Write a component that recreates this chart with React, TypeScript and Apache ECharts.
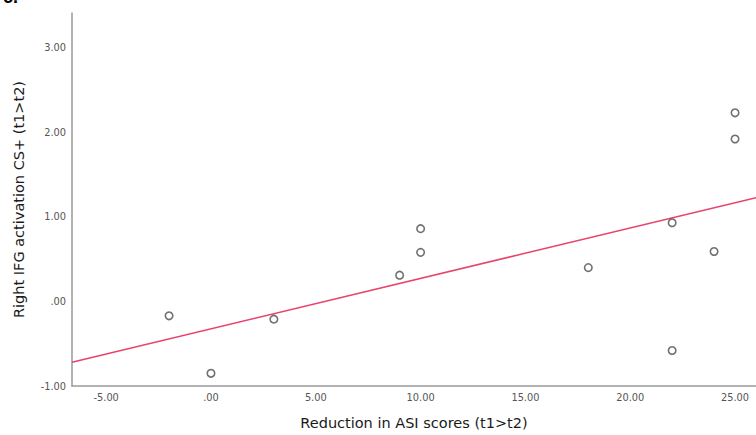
import React, { useEffect, useRef } from "react";
import * as echarts from "echarts";

const asiReduction = [-2, 0, 3, 9, 10, 10, 18, 22, 22, 24, 25, 25];
const ifgActivation = [-0.17, -0.85, -0.21, 0.31, 0.58, 0.86, 0.4, 0.93, -0.58, 0.59, 2.23, 1.92];
const xTicks = [-5, 0, 5, 10, 15, 20, 25];
const yTicks = [-1, 0, 1, 2, 3];
const xRange = [-6.63, 26.0];
const yRange = [-1, 3.41];

function fitLine(xs: number[], ys: number[]) {
  const n = xs.length;
  const mx = xs.reduce((a, b) => a + b, 0) / n;
  const my = ys.reduce((a, b) => a + b, 0) / n;
  let sxx = 0;
  let sxy = 0;
  for (let i = 0; i < n; i++) {
    sxx += (xs[i] - mx) * (xs[i] - mx);
    sxy += (xs[i] - mx) * (ys[i] - my);
  }
  const slope = sxy / sxx;
  const intercept = my - slope * mx;
  return (x: number) => intercept + slope * x;
}

const fmt = (v: number) => (v === 0 ? ".00" : v.toFixed(2));

export default function App() {
  const ref = useRef<HTMLDivElement>(null);
  useEffect(() => {
    if (!ref.current) return;
    const chart = echarts.init(ref.current, null, { renderer: "svg" });
    const f = fitLine(asiReduction, ifgActivation);
    const fitData = [
      [xRange[0], f(xRange[0])],
      [xRange[1], f(xRange[1])],
    ];
    const axisFont = "DejaVu Sans";
    chart.setOption({
      animation: false,
      backgroundColor: "#ffffff",
      grid: { left: 72, right: 0, top: 13, bottom: 48 },
      graphic: [
        {
          type: "text",
          left: 3,
          top: -12,
          style: { text: "c.", font: "bold 18px Arial", fill: "#000" },
        },
      ],
      xAxis: {
        type: "value",
        min: xRange[0],
        max: xRange[1],
        name: "Reduction in ASI scores (t1>t2)",
        nameLocation: "middle",
        nameGap: 29,
        nameTextStyle: { fontFamily: axisFont, fontSize: 14.5, color: "#1a1a1a" },
        axisLine: { show: true, onZero: false, lineStyle: { color: "#9a9a9a", width: 1.5 } },
        axisTick: { show: false },
        splitLine: { show: false },
        axisLabel: {
          customValues: xTicks,
          formatter: fmt,
          fontFamily: axisFont,
          fontSize: 9.8,
          color: "#555",
          margin: 6,
        },
      },
      yAxis: {
        type: "value",
        min: yRange[0],
        max: yRange[1],
        name: "Right IFG activation CS+ (t1>t2)",
        nameLocation: "middle",
        nameGap: 46,
        nameTextStyle: { fontFamily: axisFont, fontSize: 14.5, color: "#1a1a1a" },
        axisLine: { show: true, onZero: false, lineStyle: { color: "#9a9a9a", width: 1.5 } },
        axisTick: { show: false },
        splitLine: { show: false },
        axisLabel: {
          customValues: yTicks,
          formatter: fmt,
          fontFamily: axisFont,
          fontSize: 9.8,
          color: "#555",
          margin: 6,
        },
      },
      series: [
        {
          type: "line",
          data: fitData,
          symbol: "none",
          lineStyle: { color: "#e8436b", width: 1.5 },
          z: 1,
          silent: true,
        },
        {
          type: "scatter",
          data: asiReduction.map((x, i) => [x, ifgActivation[i]]),
          symbol: "circle",
          symbolSize: 7.5,
          itemStyle: { color: "#ffffff", borderColor: "#4d4d4d", borderWidth: 1.6 },
          z: 3,
        },
      ],
    });
    return () => chart.dispose();
  }, []);
  return <div ref={ref} style={{ width: 756, height: 435, position: "absolute", left: 0, top: 0 }} />;
}
